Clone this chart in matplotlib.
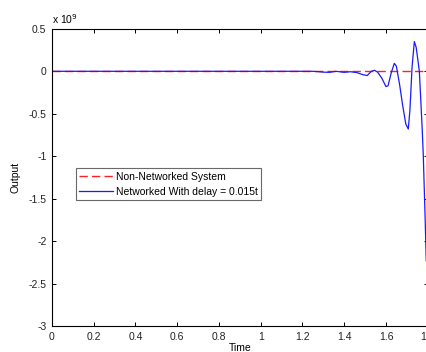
import numpy as np
import matplotlib.pyplot as plt

# time samples (blue curve), output in units of 1e9
t_net = [0.0, 1.25, 1.28, 1.30, 1.33, 1.36, 1.40, 1.43, 1.46, 1.49, 1.51,
         1.53, 1.545, 1.56, 1.58, 1.60, 1.61, 1.625, 1.64, 1.65, 1.665,
         1.68, 1.695, 1.707, 1.715, 1.725, 1.736, 1.745, 1.76, 1.774,
         1.779, 1.788, 1.793, 1.80]
y_net = [0.0, 0.0, -0.005, -0.01, -0.012, 0.0, -0.012, -0.005, -0.015,
         -0.04, -0.05, 0.0, 0.012, -0.01, -0.08, -0.18, -0.17, -0.02, 0.094,
         0.06, -0.15, -0.40, -0.62, -0.68, -0.45, 0.05, 0.35, 0.28, 0.0,
         -0.70, -1.0, -1.76, -2.23, -2.30]

t_ref = [0.0, 1.8]
y_ref = [0.0, 0.0]

xticks = [0, 0.2, 0.4, 0.6, 0.8, 1, 1.2, 1.4, 1.6, 1.8]
xticklabels = ['0', '0.2', '0.4', '0.6', '0.8', '1', '1.2', '1.4', '1.6', '1.8']
yticks = [0.5, 0, -0.5, -1, -1.5, -2, -2.5, -3]
yticklabels = ['0.5', '0', '-0.5', '-1', '-1.5', '-2', '-2.5', '-3']

plt.rcParams['font.family'] = ['Liberation Sans', 'DejaVu Sans']

fig = plt.figure(figsize=(4.26, 3.52), dpi=100)
ax = fig.add_axes([0.122, 0.074, 0.882, 0.844])

ax.plot(t_ref, y_ref, color='#ff2020', linestyle=(0, (6, 3)), linewidth=1.0,
        label='Non-Networked System')
ax.plot(t_net, y_net, color='#1a1aff', linewidth=0.9,
        label='Networked With delay = 0.015t')

ax.set_xlim(0, 1.8)
ax.set_ylim(-3, 0.5)
ax.set_xticks(xticks)
ax.set_xticklabels(xticklabels)
ax.set_yticks(yticks)
ax.set_yticklabels(yticklabels)
ax.tick_params(direction='in', top=True, right=True, length=3, width=0.7,
               labelsize=7.5, pad=4, labelcolor='#222222')
for s in ax.spines.values():
    s.set_linewidth(0.8)

ax.set_xlabel('Time', fontsize=7.5, labelpad=1)
ax.set_ylabel('Output', fontsize=7.5, labelpad=6)
ax.text(0.0, 1.01, r'x 10$^9$', transform=ax.transAxes, fontsize=7.5,
        ha='left', va='bottom')

leg = ax.legend(loc='upper left', bbox_to_anchor=(0.063, 0.53), fontsize=7.5,
                frameon=True, fancybox=False, edgecolor='#444444',
                handlelength=3.2, handletextpad=0.3, borderpad=0.35,
                labelspacing=0.45, borderaxespad=0)
leg.get_frame().set_linewidth(0.8)

fig.savefig('out.png', dpi=100)
